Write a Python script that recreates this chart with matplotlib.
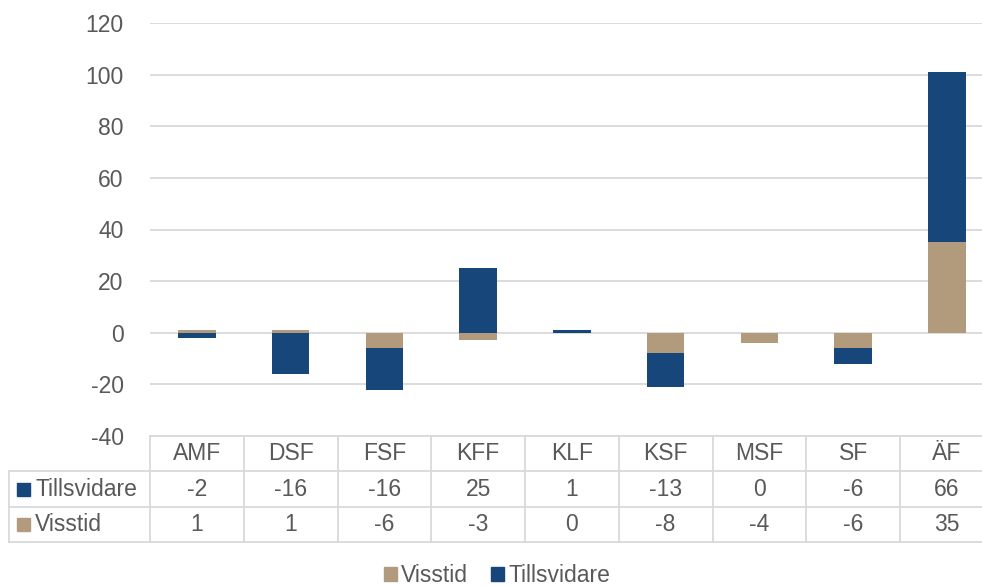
import matplotlib
matplotlib.use("Agg")
import matplotlib.pyplot as plt
from matplotlib.patches import Patch, Rectangle
from matplotlib.lines import Line2D
from matplotlib.transforms import blended_transform_factory
import numpy as np

plt.rcParams['font.family'] = ['Liberation Sans', 'DejaVu Sans']

categories = ["AMF", "DSF", "FSF", "KFF", "KLF", "KSF", "MSF", "SF", "ÄF"]
tillsvidare = [-2, -16, -16, 25, 1, -13, 0, -6, 66]
visstid = [1, 1, -6, -3, 0, -8, -4, -6, 35]
yticks = [-40, -20, 0, 20, 40, 60, 80, 100, 120]

C_BLUE = "#17477A"
C_TAN = "#B29A7C"
C_TEXT = "#595959"
C_GRID = "#D9D9D9"
FS = 16.5

W, H = 982, 587
fig = plt.figure(figsize=(W / 100, H / 100), dpi=100)
colw = 93.75
ax = fig.add_axes([150 / W, (H - 436) / H, 9 * colw / W, 413 / H])

x = np.arange(len(categories))
pos_base = np.zeros(len(categories))
neg_base = np.zeros(len(categories))
for vals, col in ((visstid, C_TAN), (tillsvidare, C_BLUE)):
    v = np.array(vals, dtype=float)
    bottoms = np.where(v >= 0, pos_base, neg_base)
    ax.bar(x, v, bottom=bottoms, width=0.4, color=col, zorder=3)
    pos_base = pos_base + np.where(v >= 0, v, 0)
    neg_base = neg_base + np.where(v < 0, v, 0)

ax.set_xlim(-0.5, len(categories) - 0.5)
ax.set_ylim(-40, 120)
ax.set_yticks(yticks)
ax.set_yticklabels([str(t) for t in yticks], color=C_TEXT, fontsize=FS)
ax.tick_params(axis='y', length=0, pad=19)
ax.set_xticks([])
ax.grid(axis='y', color=C_GRID, linewidth=1.3, zorder=0)
for s in ax.spines.values():
    s.set_visible(False)

# data table
tr = blended_transform_factory(ax.transData, fig.transFigure)
def fy(py):
    return 1 - py / H

rows_y = [436, 471, 507, 542]
left_x = -0.5 - 141 / colw
right_x = len(categories) - 0.5
lc = dict(color=C_GRID, linewidth=1.3, transform=tr, clip_on=False)
fig.add_artist(Line2D([-0.5, right_x], [fy(rows_y[0])] * 2, **lc))
for py in rows_y[1:]:
    fig.add_artist(Line2D([left_x, right_x], [fy(py)] * 2, **lc))
fig.add_artist(Line2D([left_x, left_x], [fy(rows_y[1]), fy(rows_y[3])], **lc))
for i in range(len(categories) + 1):
    xb = i - 0.5
    fig.add_artist(Line2D([xb, xb], [fy(rows_y[0]), fy(rows_y[3])], **lc))

for i, c in enumerate(categories):
    fig.text(i, fy((rows_y[0] + rows_y[1]) / 2), c, transform=tr, ha='center',
             va='center', fontsize=FS, color=C_TEXT)
    fig.text(i, fy((rows_y[1] + rows_y[2]) / 2), str(tillsvidare[i]), transform=tr,
             ha='center', va='center', fontsize=FS, color=C_TEXT)
    fig.text(i, fy((rows_y[2] + rows_y[3]) / 2), str(visstid[i]), transform=tr,
             ha='center', va='center', fontsize=FS, color=C_TEXT)

for (r0, r1), name, col in (((rows_y[1], rows_y[2]), "Tillsvidare", C_BLUE),
                            ((rows_y[2], rows_y[3]), "Visstid", C_TAN)):
    cy = (r0 + r1) / 2
    fig.add_artist(Rectangle((17 / W, fy(cy + 6.5)), 13 / W, 13 / H, color=col,
                             transform=fig.transFigure))
    fig.text(35 / W, fy(cy), name, ha='left', va='center', fontsize=FS, color=C_TEXT)

handles = [Patch(color=C_TAN, label="Visstid"), Patch(color=C_BLUE, label="Tillsvidare")]
fig.legend(handles=handles, loc='center', bbox_to_anchor=(497 / W, fy(576)), ncol=2,
           frameon=False, fontsize=FS, labelcolor=C_TEXT, handlelength=0.55,
           handleheight=0.55, handletextpad=0.2, columnspacing=1.0,
           borderpad=0, borderaxespad=0)

fig.savefig("out.png", dpi=100)
